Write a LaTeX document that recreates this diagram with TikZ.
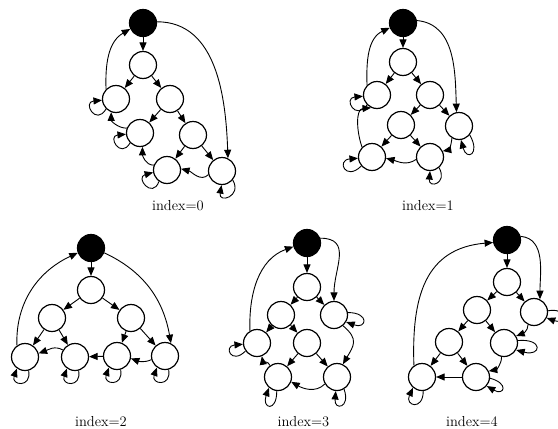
\documentclass[tikz,border=0pt]{standalone}
\usetikzlibrary{arrows.meta}
\begin{document}
\begin{tikzpicture}[x=1pt,y=1pt,
  st/.style={circle,draw,line width=1.2pt,minimum size=27pt,inner sep=0pt,fill=white},
  rt/.style={st,fill=black},
  arr/.style={-{Triangle[length=8.5pt,width=7pt]},line width=0.9pt},
  lbl/.style={font=\fontsize{14.5}{16}\selectfont,inner sep=0pt}]
\path[use as bounding box,fill=white] (0,0) rectangle (558,-429);
% ---------- index=0 ----------
\node[rt] (R0) at (143,-23) {};
\node[st] (A0) at (143,-65) {};
\node[st] (B0) at (116,-99) {};
\node[st] (C0) at (170,-99) {};
\node[st] (D0) at (140,-133) {};
\node[st] (E0) at (193,-135) {};
\node[st] (F0) at (167,-170) {};
\node[st] (G0) at (222,-171) {};
\draw[arr] (R0) -- (A0);
\draw[arr] (A0) -- (B0);
\draw[arr] (A0) -- (C0);
\draw[arr] (C0) -- (D0);
\draw[arr] (C0) -- (E0);
\draw[arr] (E0) -- (F0);
\draw[arr] (E0) -- (G0);
\draw[arr] (B0.135) to[out=92,in=210] (R0.205);
\draw[arr] (R0.5) to[out=0,in=92] (G0.65);
\draw[arr] (D0.160) to[out=180,in=270] (B0.250);
\draw[arr] (F0.160) to[out=180,in=270] (D0.280);
\draw[arr] (G0.195) to[out=225,in=-15] (F0.5);
\draw[arr] (B0.225) .. controls +(240:20) and +(185:20) .. (B0.185);
\draw[arr] (D0.225) .. controls +(240:19) and +(185:19) .. (D0.185);
\draw[arr] (F0.235) .. controls +(250:19) and +(195:19) .. (F0.190);
\draw[arr] (G0.320) .. controls +(300:19) and +(260:19) .. (G0.268);
\node[lbl] (L0) at (178,-206) {index=0};
% ---------- index=1 ----------
\node[rt] (R1) at (403,-23) {};
\node[st] (A1) at (403,-62) {};
\node[st] (B1) at (377,-95) {};
\node[st] (C1) at (430,-95) {};
\node[st] (D1) at (401,-125) {};
\node[st] (E1) at (459,-126) {};
\node[st] (F1) at (372,-157) {};
\node[st] (G1) at (430,-157) {};
\draw[arr] (R1) -- (A1);
\draw[arr] (A1) -- (B1);
\draw[arr] (A1) -- (C1);
\draw[arr] (C1) -- (D1);
\draw[arr] (C1) -- (E1);
\draw[arr] (D1) -- (F1);
\draw[arr] (D1) -- (G1);
\draw[arr] (B1.135) to[out=92,in=205] (R1.200);
\draw[arr] (R1.10) to[out=-5,in=92] (E1.100);
\draw[arr] (F1.135) to[out=110,in=185] (B1.245);
\draw[arr] (G1.190) to[out=215,in=-15] (F1.355);
\draw[arr] (E1.240) to[out=265,in=10] (G1.25);
\draw[arr] (B1.225) .. controls +(235:20) and +(185:20) .. (B1.185);
\draw[arr] (F1.220) .. controls +(225:22) and +(185:22) .. (F1.185);
\draw[arr] (E1.320) .. controls +(300:22) and +(285:22) .. (E1.278);
\draw[arr] (G1.310) .. controls +(300:18) and +(265:18) .. (G1.270);
\node[lbl] (L1) at (428,-206) {index=1};
% ---------- index=2 ----------
\node[rt] (R2) at (91,-248) {};
\node[st] (A2) at (91,-290) {};
\node[st] (B2) at (52,-318) {};
\node[st] (C2) at (131,-318) {};
\node[st] (D2) at (25,-357) {};
\node[st] (E2) at (75,-357) {};
\node[st] (F2) at (117,-356) {};
\node[st] (G2) at (165,-356) {};
\draw[arr] (R2) -- (A2);
\draw[arr] (A2) -- (B2);
\draw[arr] (A2) -- (C2);
\draw[arr] (B2) -- (D2);
\draw[arr] (B2) -- (E2);
\draw[arr] (C2) -- (F2);
\draw[arr] (C2) -- (G2);
\draw[arr] (F2) -- (E2);
\draw[arr] (D2.125) to[out=92,in=205] (R2.200);
\draw[arr] (R2.340) to[out=-25,in=100] (G2.65);
\draw[arr] (E2.150) to[out=150,in=20] (D2.15);
\draw[arr] (G2.195) to[out=205,in=-20] (F2.350);
\draw[arr] (D2.285) .. controls +(280:18) and +(250:18) .. (D2.235);
\draw[arr] (E2.285) .. controls +(280:18) and +(250:18) .. (E2.235);
\draw[arr] (F2.285) .. controls +(280:18) and +(250:18) .. (F2.235);
\draw[arr] (G2.285) .. controls +(280:18) and +(250:18) .. (G2.235);
\node[lbl] (L2) at (101,-422) {index=2};
% ---------- index=3 ----------
\node[rt] (R3) at (307,-243) {};
\node[st] (A3) at (307,-287) {};
\node[st] (B3) at (281,-315) {};
\node[st] (C3) at (334,-315) {};
\node[st] (D3) at (257,-343) {};
\node[st] (E3) at (307,-343) {};
\node[st] (F3) at (278,-377) {};
\node[st] (G3) at (337,-377) {};
\draw[arr] (R3) -- (A3);
\draw[arr] (A3) -- (B3);
\draw[arr] (A3) -- (C3);
\draw[arr] (B3) -- (D3);
\draw[arr] (B3) -- (E3);
\draw[arr] (E3) -- (F3);
\draw[arr] (E3) -- (G3);
\draw[arr] (D3.120) to[out=92,in=200] (R3.195);
\draw[arr] (R3.20) to[out=0,in=90,looseness=1.3] (C3.90);
\draw[arr] (C3.310) to[out=-40,in=60,looseness=1.4] (G3.65);
\draw[arr] (F3.125) to[out=110,in=280] (D3.290);
\draw[arr] (G3.210) to[out=225,in=-30] (F3.340);
\draw[arr] (C3.10) .. controls +(0:22) and +(340:22) .. (C3.330);
\draw[arr] (D3.215) .. controls +(225:20) and +(185:20) .. (D3.185);
\draw[arr] (F3.265) .. controls +(270:22) and +(250:22) .. (F3.230);
\draw[arr] (G3.300) .. controls +(290:20) and +(265:20) .. (G3.265);
\node[lbl] (L3) at (303.5,-422) {index=3};
% ---------- index=4 ----------
\node[rt] (R4) at (507,-240) {};
\node[st] (A4) at (507,-282) {};
\node[st] (B4) at (477,-310) {};
\node[st] (C4) at (534,-312) {};
\node[st] (D4) at (449,-342) {};
\node[st] (E4) at (504,-343) {};
\node[st] (F4) at (422,-377) {};
\node[st] (G4) at (476,-377) {};
\draw[arr] (R4) -- (A4);
\draw[arr] (A4) -- (B4);
\draw[arr] (A4) -- (C4);
\draw[arr] (B4) -- (D4);
\draw[arr] (B4) -- (E4);
\draw[arr] (D4) -- (F4);
\draw[arr] (D4) -- (G4);
\draw[arr] (G4) -- (F4);
\draw[arr] (F4.125) to[out=92,in=185,looseness=1.2] (R4.190);
\draw[arr] (R4.15) to[out=-5,in=90] (C4.65);
\draw[arr] (C4.245) to[out=270,in=20] (E4.30);
\draw[arr] (E4.260) to[out=270,in=10] (G4.25);
\draw[arr] (C4.5) .. controls +(10:20) and +(340:20) .. (C4.335);
\draw[arr] (E4.10) .. controls +(5:26) and +(345:26) .. (E4.330);
\draw[arr] (G4.355) .. controls +(345:20) and +(330:20) .. (G4.320);
\draw[arr] (F4.275) .. controls +(270:20) and +(245:20) .. (F4.230);
\node[lbl] (L4) at (472,-422) {index=4};
\end{tikzpicture}
\end{document}
